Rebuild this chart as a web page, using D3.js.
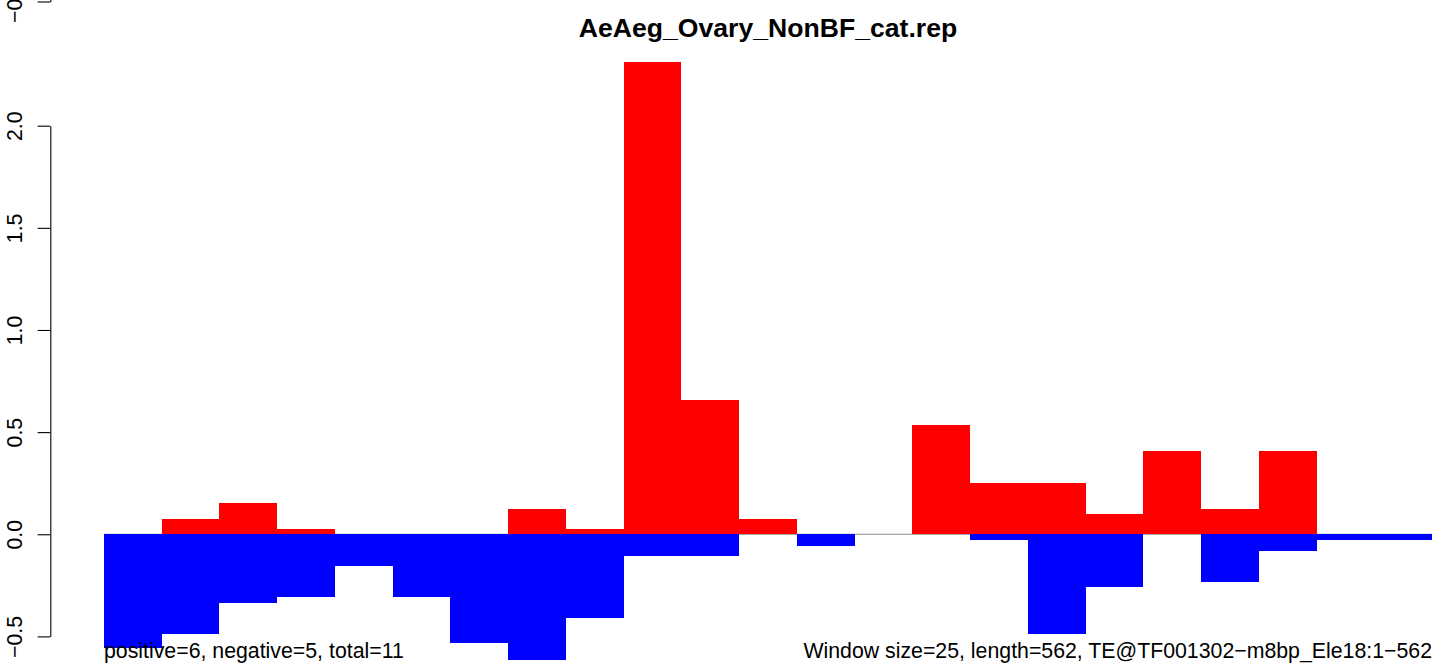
<!DOCTYPE html>
<html>
<head>
<meta charset="utf-8">
<script src="https://cdn.jsdelivr.net/npm/d3@7"></script>
<style>
  html, body { margin: 0; padding: 0; background: #fff; }
  svg { display: block; font-family: "Liberation Sans", Arial, Helvetica, sans-serif; }
</style>
</head>
<body>
<script>
// Sliding windows (size 25) along the 562 bp element
const windows = [1, 2, 3, 4, 5, 6, 7, 8, 9, 10, 11, 12, 13, 14, 15, 16, 17, 18, 19, 20, 21, 22, 23];

// Per-window scores above zero (red) and below zero (blue)
const positiveScores = [0, 0.075, 0.153, 0.026, 0, 0, 0, 0.124, 0.026, 2.312, 0.658, 0.075,
                        0, 0, 0.536, 0.251, 0.251, 0.1, 0.408, 0.124, 0.408, 0, 0];
const negativeScores = [-0.558, -0.489, -0.335, -0.306, -0.155, -0.306, -0.532, -0.615, -0.41,
                        -0.105, -0.105, 0, -0.056, 0, 0, -0.026, -0.489, -0.257, 0, -0.234,
                        -0.082, -0.028, -0.028];

const yTicks = [-0.5, 0.0, 0.5, 1.0, 1.5, 2.0];
const yTickLabels = ["\u22120.5", "0.0", "0.5", "1.0", "1.5", "2.0"];

const titleText = "AeAeg_Ovary_NonBF_cat.rep";
const leftNote = "positive=6, negative=5, total=11";
const rightNote = "Window size=25, length=562, TE@TF001302\u2212m8bp_Ele18:1\u2212562";

const W = 1450, H = 671;
const baseFont = 21.3;
const svg = d3.select("body").append("svg").attr("width", W).attr("height", H);

const x = d3.scaleLinear().domain([0, windows.length]).range([104, 1432]);
const y = d3.scaleLinear().domain([-0.5, 2.0]).range([636.4, 125.7]);

// zero reference line
svg.append("line")
  .attr("x1", x(0)).attr("x2", x(windows.length))
  .attr("y1", y(0)).attr("y2", y(0))
  .attr("stroke", "#8c8c8c").attr("stroke-width", 1.2);

// positive bars
svg.append("g").selectAll("rect")
  .data(windows.map((w, i) => ({ i, v: positiveScores[i] })).filter(d => d.v > 0))
  .join("rect")
  .attr("x", d => x(d.i))
  .attr("width", d => x(d.i + 1) - x(d.i))
  .attr("y", d => y(d.v))
  .attr("height", d => y(0) - y(d.v))
  .attr("fill", "#ff0000")
  .attr("shape-rendering", "crispEdges");

// negative bars
svg.append("g").selectAll("rect")
  .data(windows.map((w, i) => ({ i, v: negativeScores[i] })).filter(d => d.v < 0))
  .join("rect")
  .attr("x", d => x(d.i))
  .attr("width", d => x(d.i + 1) - x(d.i))
  .attr("y", y(0))
  .attr("height", d => y(d.v) - y(0))
  .attr("fill", "#0000ff")
  .attr("shape-rendering", "crispEdges");

// y axis in base-graphics style: rotated labels, no extension past end ticks
function drawYAxis(scale, ticks, labels, xPos) {
  const g = svg.append("g").attr("transform", `translate(${xPos},0)`);
  const axis = d3.axisLeft(scale)
    .tickValues(ticks)
    .tickSize(12.7)
    .tickSizeOuter(0)
    .tickFormat((d, i) => labels[i]);
  g.call(axis);
  g.select(".domain").attr("stroke", "#000").attr("stroke-width", 1.1);
  g.selectAll(".tick line").attr("stroke", "#000").attr("stroke-width", 1.1);
  g.selectAll(".tick text")
    .attr("fill", "#000")
    .attr("font-size", baseFont)
    .attr("font-family", "Liberation Sans, Arial, sans-serif")
    .attr("text-anchor", "middle")
    .attr("dy", null)
    .attr("x", null)
    .attr("transform", `translate(${22 - xPos},0) rotate(-90)`)
    .attr("y", 0);
  return g;
}

drawYAxis(y, yTicks, yTickLabels, 50.3);

// lowest tick of the neighbouring panel above, just reaching the top edge
const yAbove = d3.scaleLinear().domain([-0.5, 0]).range([1.5, -100]);
drawYAxis(yAbove, [-0.5], ["\u22120.5"], 50.3);

// title
svg.append("text")
  .attr("x", (x(0) + x(windows.length)) / 2)
  .attr("y", 37)
  .attr("text-anchor", "middle")
  .attr("font-weight", "bold")
  .attr("font-size", 26.6)
  .attr("fill", "#000")
  .text(titleText);

// footnotes
svg.append("text")
  .attr("x", x(0)).attr("y", 658)
  .attr("font-size", baseFont).attr("fill", "#000")
  .text(leftNote);

svg.append("text")
  .attr("x", x(windows.length)).attr("y", 658)
  .attr("text-anchor", "end")
  .attr("font-size", baseFont).attr("fill", "#000")
  .text(rightNote);
</script>
</body>
</html>
